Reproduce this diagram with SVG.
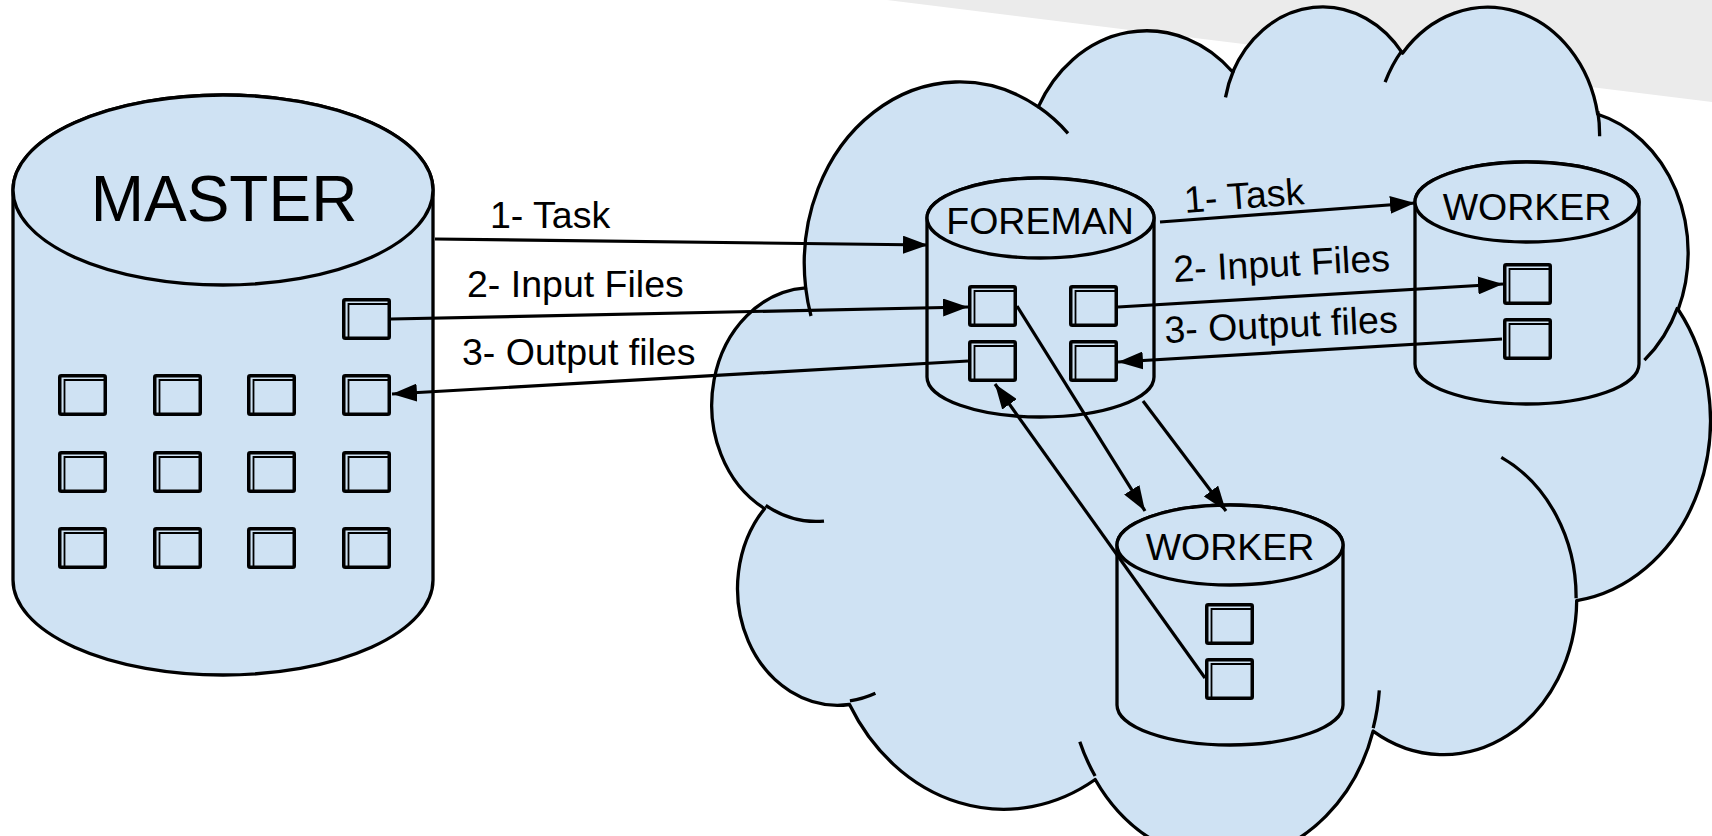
<svg xmlns="http://www.w3.org/2000/svg" width="1712" height="836" viewBox="0 0 1712 836">
  <style>
    .shape { fill: #cfe2f3; stroke: #000; stroke-width: 3.3; stroke-linejoin: round; }
    .inner { fill: none; stroke: #000; stroke-width: 3.3; stroke-linecap: butt; }
    .conn { fill: none; stroke: #000; stroke-width: 3.2; marker-end: url(#ah); }
    .lbl { font-family: "Liberation Sans", Arial, sans-serif; font-size: 37.5px; fill: #000; }
    .title { font-family: "Liberation Sans", Arial, sans-serif; fill: #000; text-anchor: middle; }
  </style>
  <defs>
    <marker id="ah" markerUnits="userSpaceOnUse" markerWidth="25" markerHeight="18" refX="25" refY="9" orient="auto">
      <path d="M0,0 L25,9 L0,18 Z" fill="#000"/>
    </marker>
    <g id="file">
      <rect x="1.75" y="1.75" width="45.5" height="38.5" rx="1.5" fill="#cfe2f3" stroke="#000" stroke-width="3.5"/>
      <path d="M6.5,40 V6 H47.5" fill="none" stroke="#000" stroke-width="1.8"/>
    </g>
  </defs>

  <rect width="1712" height="836" fill="#fff"/>
  <polygon points="887,0 1712,0 1712,102" fill="#ebebeb"/>

  <g id="cloud">
    <path class="shape" d="M805.7,287.9 A155.38,181.46 0 0 1 1038.3,106.9 A122.71,143.49 0 0 1 1232.7,72.0 A100.43,117.38 0 0 1 1402.5,53.2 A111.75,130.22 0 0 1 1597.7,114.3 A122.71,143.61 0 0 1 1678.2,309.5 A155.89,182.05 0 0 1 1576.7,600.6 A133.11,155.33 0 0 1 1373.1,731.1 A155.36,181.95 0 0 1 1095.2,779.5 A177.63,208.17 0 0 1 849.5,704.5 A100.32,116.85 0 0 1 764.6,508.6 A99.97,117.38 0 0 1 805.7,287.9 Z"/>
    <path class="inner" d="M824.0,521.1 A99.97,117.38 0 0 1 765.7,505.3 M875.4,693.3 A100.32,116.85 0 0 1 849.9,700.8 M1095.1,776.0 A155.36,181.95 0 0 1 1079.8,741.7 M1379.3,690.4 A155.36,181.95 0 0 1 1373.2,728.1 M1501.3,457.4 A133.11,155.33 0 0 1 1576.1,598.3 M1677.7,307.4 A122.71,143.61 0 0 1 1644.4,360.2 M1597.8,111.3 A111.75,130.22 0 0 1 1599.6,136.3 M1385.1,82.2 A111.75,130.22 0 0 1 1402.1,50.4 M1225.5,97.4 A100.43,117.38 0 0 1 1233.7,70.0 M1038.1,106.7 A155.38,181.46 0 0 1 1068.0,133.3 M811.0,316.0 A155.38,181.46 0 0 1 805.7,287.9"/>
  </g>

  <g id="master">
    <path class="shape" d="M13,190 A210,95 0 0 1 433,190 V580 A210,95 0 0 1 13,580 Z"/>
    <ellipse class="shape" cx="223" cy="190" rx="210" ry="95"/>
    <text class="title" x="224" y="221" font-size="64">MASTER</text>
    <use href="#file" x="342" y="298"/>
    <use href="#file" x="58" y="374"/><use href="#file" x="153" y="374"/><use href="#file" x="247" y="374"/><use href="#file" x="342" y="374"/>
    <use href="#file" x="58" y="451"/><use href="#file" x="153" y="451"/><use href="#file" x="247" y="451"/><use href="#file" x="342" y="451"/>
    <use href="#file" x="58" y="527"/><use href="#file" x="153" y="527"/><use href="#file" x="247" y="527"/><use href="#file" x="342" y="527"/>
  </g>

  <g id="foreman">
    <path class="shape" d="M927,218 A113.5,40 0 0 1 1154,218 V377 A113.5,40 0 0 1 927,377 Z"/>
    <ellipse class="shape" cx="1040.5" cy="218" rx="113.5" ry="40"/>
    <text class="title" x="1040" y="234" font-size="37.5">FOREMAN</text>
    <use href="#file" x="968" y="285"/><use href="#file" x="1069" y="285"/>
    <use href="#file" x="968" y="340"/><use href="#file" x="1069" y="340"/>
  </g>

  <g id="worker1">
    <path class="shape" d="M1415,202 A112,40 0 0 1 1639,202 V364 A112,40 0 0 1 1415,364 Z"/>
    <ellipse class="shape" cx="1527" cy="202" rx="112" ry="40"/>
    <text class="title" x="1527" y="220" font-size="37.5">WORKER</text>
    <use href="#file" x="1503" y="263"/>
    <use href="#file" x="1503" y="318"/>
  </g>

  <g id="worker2">
    <path class="shape" d="M1117,545 A113,40 0 0 1 1343,545 V705 A113,40 0 0 1 1117,705 Z"/>
    <ellipse class="shape" cx="1230" cy="545" rx="113" ry="40"/>
    <text class="title" x="1230" y="560" font-size="37.5">WORKER</text>
    <use href="#file" x="1205" y="603"/>
    <use href="#file" x="1205" y="658"/>
  </g>

  <g id="connectors">
    <line class="conn" x1="435" y1="239" x2="928" y2="245"/>
    <line class="conn" x1="391" y1="319" x2="968" y2="307"/>
    <line class="conn" x1="968" y1="361" x2="392" y2="394"/>
    <line class="conn" x1="1160" y1="222" x2="1415" y2="203"/>
    <line class="conn" x1="1118" y1="307" x2="1503" y2="284"/>
    <line class="conn" x1="1502" y1="339" x2="1118" y2="362"/>
    <line class="conn" x1="1017" y1="306" x2="1145" y2="511"/>
    <line class="conn" x1="1143" y1="401" x2="1226" y2="511"/>
    <line class="conn" x1="1205" y1="678" x2="995" y2="384"/>
  </g>

  <g id="labels">
    <text class="lbl" x="490" y="228">1- Task</text>
    <text class="lbl" x="467" y="297">2- Input Files</text>
    <text class="lbl" x="462" y="365">3- Output files</text>
    <text class="lbl" x="1185" y="213" transform="rotate(-4.3 1185 213)">1- Task</text>
    <text class="lbl" x="1174" y="282" transform="rotate(-3 1174 282)">2- Input Files</text>
    <text class="lbl" x="1165" y="343" transform="rotate(-2.7 1165 343)">3- Output files</text>
  </g>
</svg>
